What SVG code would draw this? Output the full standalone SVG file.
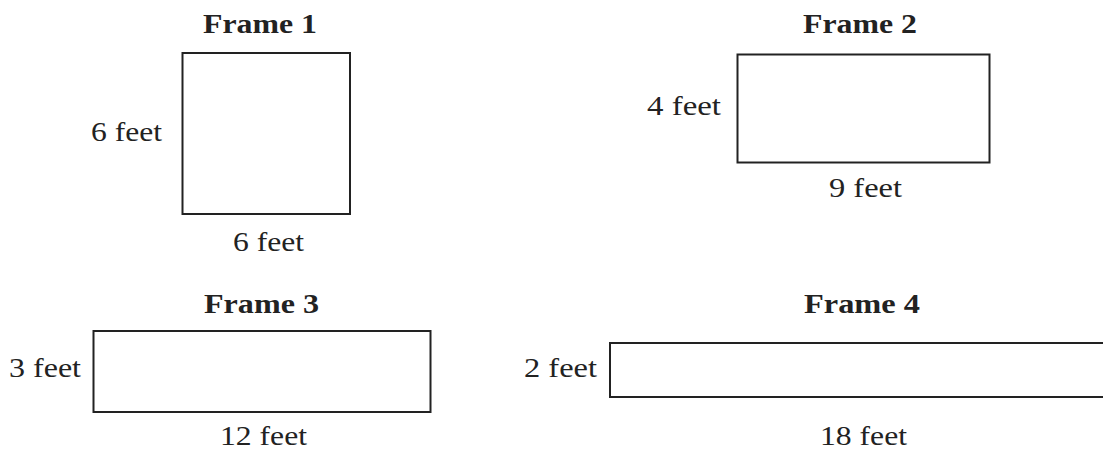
<svg xmlns="http://www.w3.org/2000/svg" width="1103" height="450" viewBox="0 0 1103 450">
<style>
.frame{fill:#fff;stroke:#222;stroke-width:2}
text{font-family:'Liberation Serif','Times New Roman',Times,'Nimbus Roman',serif;font-size:28px;fill:#222}
.b{font-weight:bold}
</style>
<rect width="1103" height="450" fill="#fff"/>
<g id="frame1">
<rect class="frame" x="182.5" y="53" width="167.5" height="161"/>
<text class="b" x="203" y="33" textLength="114" lengthAdjust="spacingAndGlyphs">Frame 1</text>
<text x="91" y="141" textLength="71" lengthAdjust="spacingAndGlyphs">6 feet</text>
<text x="233" y="251" textLength="71" lengthAdjust="spacingAndGlyphs">6 feet</text>
</g>
<g id="frame2">
<rect class="frame" x="737.5" y="54.5" width="252" height="108"/>
<text class="b" x="803" y="33" textLength="114" lengthAdjust="spacingAndGlyphs">Frame 2</text>
<text x="647" y="115" textLength="74" lengthAdjust="spacingAndGlyphs">4 feet</text>
<text x="829" y="197" textLength="73" lengthAdjust="spacingAndGlyphs">9 feet</text>
</g>
<g id="frame3">
<rect class="frame" x="93.5" y="331" width="337" height="81"/>
<text class="b" x="204" y="313" textLength="115" lengthAdjust="spacingAndGlyphs">Frame 3</text>
<text x="9" y="377" textLength="72" lengthAdjust="spacingAndGlyphs">3 feet</text>
<text x="220" y="445" textLength="87" lengthAdjust="spacingAndGlyphs">12 feet</text>
</g>
<g id="frame4">
<rect class="frame" x="610" y="343" width="500" height="54"/>
<text class="b" x="804" y="313" textLength="116" lengthAdjust="spacingAndGlyphs">Frame 4</text>
<text x="524" y="377" textLength="73" lengthAdjust="spacingAndGlyphs">2 feet</text>
<text x="820" y="445" textLength="87" lengthAdjust="spacingAndGlyphs">18 feet</text>
</g>
<g id="connectors"></g>
</svg>
